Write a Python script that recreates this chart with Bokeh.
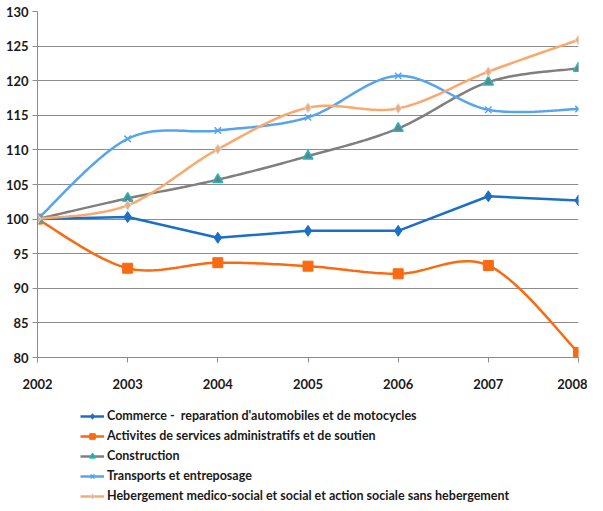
from bokeh.plotting import figure
from bokeh.layouts import column
from bokeh.models import Legend, LegendItem, FixedTicker, Range1d
from bokeh.embed import file_html
from bokeh.resources import INLINE

years = [2002, 2003, 2004, 2005, 2006, 2007, 2008]
commerce = [100, 100.3, 97.3, 98.3, 98.3, 103.3, 102.7]
activites = [100, 92.9, 93.7, 93.2, 92.1, 93.3, 80.7]
construction = [100, 103.0, 105.7, 109.1, 113.1, 119.8, 121.8]
transports = [100, 111.6, 112.8, 114.7, 120.7, 115.8, 115.9]
hebergement = [100, 102.0, 110.1, 116.1, 116.0, 121.3, 125.9]

labels = [
    "Commerce -  reparation d'automobiles et de motocycles",
    "Activites de services administratifs et de soutien",
    "Construction",
    "Transports et entreposage",
    "Hebergement medico-social et social et action sociale sans hebergement",
]
y_ticks = [80, 85, 90, 95, 100, 105, 110, 115, 120, 125, 130]


def smooth(xs, ys, n=24):
    # Bezier smoothing (Catmull-Rom style) between data points
    px, py = [], []
    m = len(xs)
    for i in range(m - 1):
        x0, y0 = xs[max(i - 1, 0)], ys[max(i - 1, 0)]
        x1, y1 = xs[i], ys[i]
        x2, y2 = xs[i + 1], ys[i + 1]
        x3, y3 = xs[min(i + 2, m - 1)], ys[min(i + 2, m - 1)]
        c1x, c1y = x1 + (x2 - x0) / 6, y1 + (y2 - y0) / 6
        c2x, c2y = x2 - (x3 - x1) / 6, y2 - (y3 - y1) / 6
        for k in range(n):
            t = k / n
            a, b, c, d = (1 - t) ** 3, 3 * (1 - t) ** 2 * t, 3 * (1 - t) * t ** 2, t ** 3
            px.append(a * x1 + b * c1x + c * c2x + d * x2)
            py.append(a * y1 + b * c1y + c * c2y + d * y2)
    px.append(xs[-1])
    py.append(ys[-1])
    return px, py


font = "Lato"

p = figure(width=587, height=395, output_backend="svg", toolbar_location=None,
           x_range=Range1d(2002, 2008), y_range=Range1d(80, 130),
           min_border_left=37, min_border_right=9, min_border_top=11,
           min_border_bottom=38)
p.outline_line_color = None
p.background_fill_color = "white"

p.xaxis.ticker = FixedTicker(ticks=years)
p.yaxis.ticker = FixedTicker(ticks=y_ticks)
for ax in (p.xaxis, p.yaxis):
    ax.axis_line_color = "#8c8c8c"
    ax.major_tick_line_color = "#8c8c8c"
    ax.minor_tick_line_color = None
    ax.major_tick_in = 0
    ax.major_tick_out = 5
    ax.major_label_text_font = font
    ax.major_label_text_font_style = "bold"
    ax.major_label_text_font_size = "13px"
    ax.major_label_text_color = "#1a1a1a"
p.xaxis.major_label_standoff = 16
p.yaxis.major_label_standoff = 4
p.xgrid.grid_line_color = None
p.ygrid.grid_line_color = "#8c8c8c"
p.ygrid.grid_line_width = 1

styles = [
    dict(line_color="#1b6fc4", marker="diamond", size=11, fill_color="#1b6fc4", mline="#1b6fc4", mw=1, smooth=False),
    dict(line_color="#f96a12", marker="square", size=10, fill_color="#f96a12", mline="#f96a12", mw=1, smooth=True),
    dict(line_color="#7f7f7f", marker="triangle", size=10, fill_color="#6f7f7f", mline="#22b8c0", mw=1.5, smooth=True),
    dict(line_color="#55a4ee", marker="x", size=9, fill_color="#55a4ee", mline="#55a4ee", mw=1.5, smooth=True),
    dict(line_color="#fba86c", marker="diamond", size=10, fill_color="#f8a874", mline="#c8e4ea", mw=1, smooth=True),
]
series = [commerce, activites, construction, transports, hebergement]

# legend-only figure (no axes), frame fills the whole figure
lg = figure(frame_width=587, frame_height=108, output_backend="svg", toolbar_location=None,
            x_range=Range1d(0, 1), y_range=Range1d(0, 1),
            x_axis_location=None, y_axis_location=None,
            min_border_left=0, min_border_right=0, min_border_top=0, min_border_bottom=0)
lg.grid.visible = False
lg.outline_line_color = None

nan = float("nan")
items = []
for vals, st, lab in zip(series, styles, labels):
    if st["smooth"]:
        sx, sy = smooth(years, vals)
    else:
        sx, sy = years, vals
    p.line(sx, sy, line_color=st["line_color"], line_width=2.5)
    p.scatter(years, vals, marker=st["marker"], size=st["size"], fill_color=st["fill_color"],
              line_color=st["mline"], line_width=st["mw"])
    lr = lg.line([nan], [nan], line_color=st["line_color"], line_width=2.5)
    lm = lg.scatter([nan], [nan], marker=st["marker"], size=st["size"] - 2, fill_color=st["fill_color"],
                    line_color=st["mline"], line_width=st["mw"])
    items.append(LegendItem(label=lab, renderers=[lr, lm]))

legend = Legend(items=items, location=(80, 0), orientation="vertical")
legend.border_line_color = None
legend.background_fill_alpha = 0
legend.label_text_font = font
legend.label_text_font_style = "bold"
legend.label_text_font_size = "12.5px"
legend.label_text_color = "#1a1a1a"
legend.glyph_width = 24
legend.glyph_height = 14
legend.label_standoff = 3
legend.spacing = 5
legend.padding = 0
legend.margin = 0
legend.label_height = 14
lg.add_layout(legend, "center")

layout = column(p, lg, spacing=0)
open("out.html", "w").write(file_html(layout, INLINE))
